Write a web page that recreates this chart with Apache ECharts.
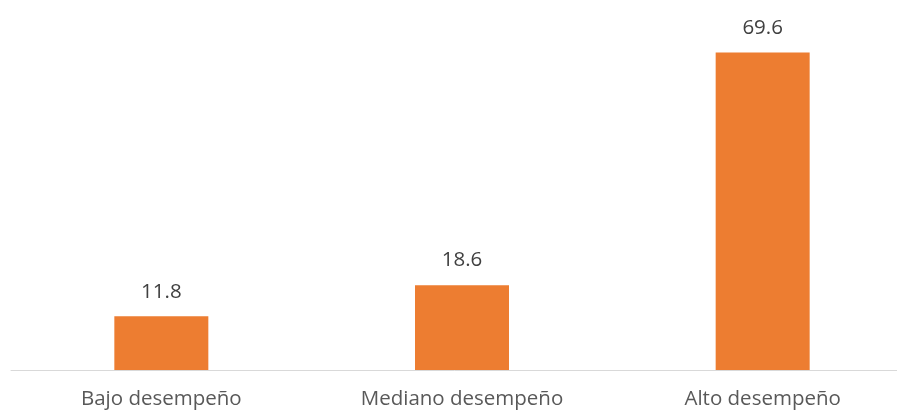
<!DOCTYPE html>
<html>
<head>
<meta charset="utf-8">
<script src="https://cdn.jsdelivr.net/npm/echarts@6/dist/echarts.min.js"></script>
<style>
  html, body { margin: 0; padding: 0; background: #fff; }
  #chart { width: 897px; height: 413px; }
</style>
</head>
<body>
<div id="chart"></div>
<script>
  // categorías y valores
  const categories = ['Bajo desempeño', 'Mediano desempeño', 'Alto desempeño']
  const values = [11.8, 18.6, 69.6]

  const myChart = echarts.init(document.getElementById('chart'))
  const option = {
    backgroundColor: '#fff',
    animation: false,
    grid: {
      left: 11,
      width: 902,
      top: 5,
      bottom: 43,
      outerBoundsMode: 'none'
    },
    xAxis: {
      type: 'category',
      data: categories,
      axisTick: { show: false },
      axisLine: {
        show: true,
        lineStyle: { color: '#d9d9d9', width: 1 }
      },
      axisLabel: {
        color: '#595959',
        fontSize: 20.5,
        fontFamily: 'Open Sans',
        margin: 19
      }
    },
    yAxis: {
      type: 'value',
      min: 0,
      max: 80,
      show: false,
      splitLine: { show: false }
    },
    series: [{
      type: 'bar',
      data: values,
      barWidth: 94,
      itemStyle: { color: '#ed7d31' },
      label: {
        show: true,
        position: 'top',
        distance: 14,
        color: '#404040',
        fontSize: 20.5,
        fontFamily: 'Open Sans'
      }
    }]
  }
  myChart.setOption(option)
</script>
</body>
</html>
